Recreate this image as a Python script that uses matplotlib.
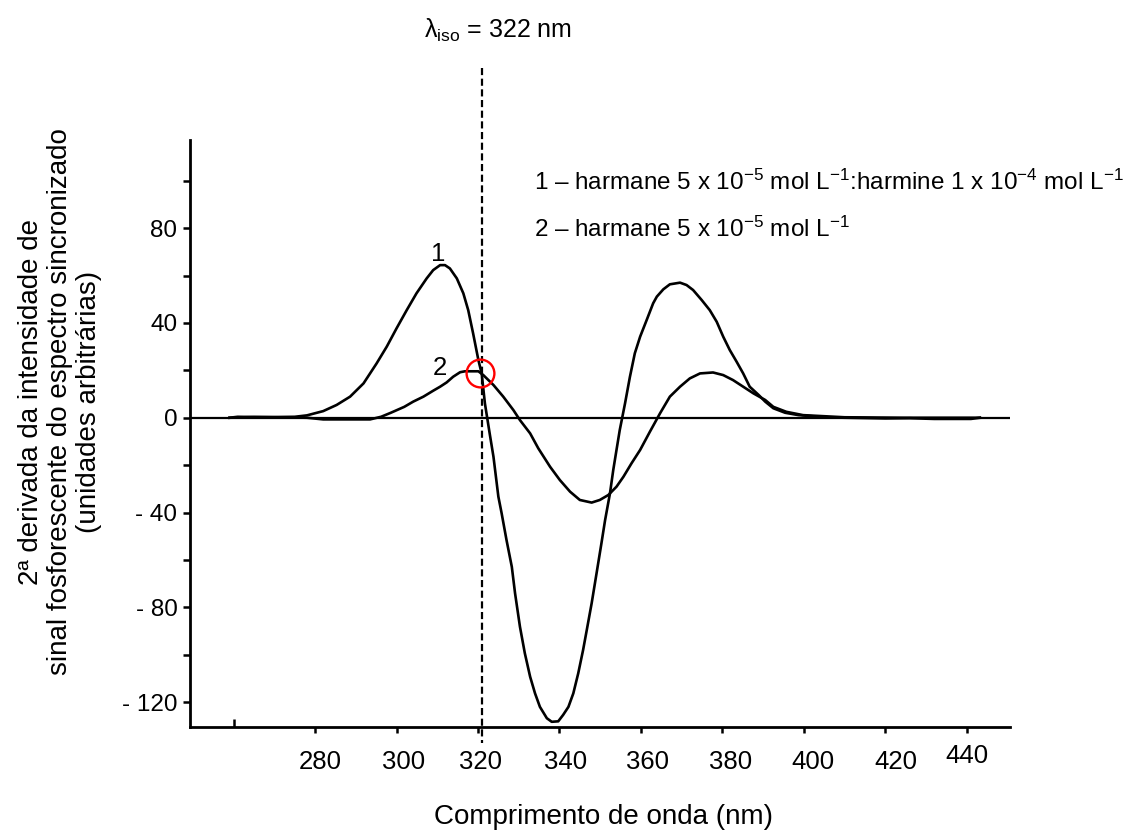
import numpy as np
import matplotlib
matplotlib.use("Agg")
import matplotlib.pyplot as plt
from matplotlib.transforms import ScaledTranslation

plt.rcParams["font.family"] = ["Liberation Sans", "DejaVu Sans"]
plt.rcParams["mathtext.fontset"] = "custom"
plt.rcParams["mathtext.rm"] = "Liberation Sans"
plt.rcParams["mathtext.it"] = "Liberation Sans:italic"
plt.rcParams["mathtext.default"] = "regular"

# curve 1: harmane 5e-5 + harmine 1e-4
wl_1 = [259, 261, 265, 270, 275, 278, 282, 285.3, 288.6, 291.9, 295.1, 297.6, 300.0,
        302.5, 304.9, 307.4, 309.0, 310.7, 311.9, 313.1, 314.8, 316.4, 317.6, 318.8,
        320.1, 320.9, 321.7, 322.9, 323.8, 325.0, 325.8, 327.0, 328.3, 329.1, 330.3,
        331.5, 332.8, 334.0, 335.2, 336.9, 338.1, 339.7, 340.9, 342.2, 343.4, 344.6,
        345.8, 346.7, 347.9, 349.1, 350.3, 351.2, 352.4, 353.2, 354.0, 354.8, 356.1,
        357.3, 358.5, 359.8, 361.4, 363.0, 363.9, 365.5, 367.1, 369.6, 371.2, 372.8,
        374.9, 376.9, 378.6, 380.2, 381.8, 383.5, 385.1, 386.7, 388.9, 390.5, 392.5,
        395.4, 398.7, 405.2, 410, 420, 426, 432, 441, 443.2]
d2_1 = [0, 0.4, 0.3, 0.3, 0.4, 1.0, 2.8, 5.4, 8.9, 14.5, 22.9, 30.0, 37.7,
        45.4, 52.5, 58.8, 62.3, 64.4, 64.4, 63.0, 58.8, 52.5, 45.4, 35.6,
        24.3, 18.7, 6.0, -7.0, -16.5, -33.3, -40.3, -51.6, -62.9, -74.1, -88.2,
        -99.4, -109.3, -116.3, -122.0, -126.8, -128.3, -128.1, -125.4, -122.0, -116.3, -107.9,
        -98.0, -89.6, -78.3, -65.7, -53.0, -43.2, -31.9, -22.1, -13.6, -5.2, 6.1,
        17.3, 27.2, 34.2, 41.2, 48.3, 51.1, 54.2, 56.3, 57.0, 56.0, 53.9,
        49.7, 45.4, 40.5, 34.2, 28.6, 23.6, 18.7, 13.1, 9.6, 6.8, 4.0,
        2.1, 1.1, 0.2, 0, -0.3, -0.2, -0.5, -0.5, 0]

# curve 2: harmane 5e-5
wl_2 = [259, 265, 270, 278, 282, 288.6, 293.5, 296.2, 298.6, 301.9, 304.1, 306.6, 309.0,
        310.7, 312.3, 313.9, 315.6, 316.8, 320.1, 321.3, 323.8, 326.2, 328.7, 330.3,
        332.8, 334.8, 337.7, 340.1, 342.6, 345.0, 347.9, 349.9, 352.0, 354.0, 355.7,
        357.7, 359.8, 362.2, 364.7, 367.1, 369.6, 372.0, 374.5, 377.7, 380.2, 382.6,
        385.1, 387.6, 390.5, 392.5, 395.7, 399.8, 410, 425, 443.2]
d2_2 = [0, 0.3, 0.2, 0, -0.7, -0.7, -0.7, 0.4, 2.1, 4.6, 6.8, 8.9, 11.4,
        13.1, 14.9, 17.3, 19.2, 19.6, 19.6, 18.0, 13.8, 8.9, 3.2, -1.0,
        -6.6, -12.9, -20.7, -26.3, -31.2, -34.7, -35.8, -34.7, -32.6, -29.1, -24.9,
        -19.2, -13.6, -5.9, 1.9, 8.9, 13.1, 16.6, 18.7, 19.1, 18.0, 15.9,
        13.1, 10.3, 7.5, 4.6, 2.5, 1.1, 0.2, 0, 0]

lambda_iso = 321
iso_point = (320.6, 19)
x_ticks = [280, 300, 320, 340, 360, 380, 400, 420, 440]
y_ticks = [-120, -80, -40, 0, 40, 80]
y_tick_labels = ["- 120", "- 80", "- 40", "0", "40", "80"]
# small offsets of the x tick labels, in pixels (as in the original figure)
x_label_dx = [5, 7, 3, 6, 7, 8, 9, 11, 0]
x_label_dy = [0, 0, 0, 0, 0, 0, 0, 0, 6]

fig = plt.figure(figsize=(11.31, 8.34), dpi=100)
ax = fig.add_axes([190 / 1131, 1 - 727 / 834, 820 / 1131, 587 / 834])

ax.axhline(0, color="black", lw=1.6, zorder=1)
ax.plot(wl_1, d2_1, color="black", lw=1.9)
ax.plot(wl_2, d2_2, color="black", lw=1.9)
ax.plot([lambda_iso, lambda_iso], [147.5, -137.3], color="black", lw=1.6,
        ls=(0, (3.2, 1.6)), clip_on=False)
ax.plot(*iso_point, "o", ms=20, mfc="none", mec="red", mew=1.7)

ax.set_xlim(249.3, 450.6)
ax.set_ylim(-130.5, 117.2)

for s in ["top", "right"]:
    ax.spines[s].set_visible(False)
ax.spines["left"].set_linewidth(2)
ax.spines["bottom"].set_linewidth(2)

ax.set_xticks(x_ticks)
ax.set_xticks([260], minor=True)
ax.tick_params(axis="x", which="major", direction="out", length=4.5, width=1.8,
               labelsize=18.5, pad=12)
ax.tick_params(axis="x", which="minor", direction="in", length=6, width=1.8)
ax.set_yticks(y_ticks)
ax.set_yticklabels(y_tick_labels)
ax.set_yticks([-100, -60, -20, 20, 60, 100], minor=True)
ax.tick_params(axis="y", which="both", direction="out", length=5, width=1.8,
               labelsize=17.5, pad=4)
for lab, dx, dy in zip(ax.get_xticklabels(), x_label_dx, x_label_dy):
    lab.set_transform(lab.get_transform()
                      + ScaledTranslation(dx / 100, dy / 100, fig.dpi_scale_trans))

ax.text(310.2, 69, "1", fontsize=18.5, ha="center", va="center")
ax.text(310.7, 21, "2", fontsize=18.5, ha="center", va="center")

fig.text(534 / 1131, 1 - 182 / 834,
         "1 – harmane 5 x 10$^{-5}$ mol L$^{-1}$:harmine 1 x 10$^{-4}$ mol L$^{-1}$",
         fontsize=17.5, va="center", ha="left")
fig.text(534 / 1131, 1 - 229 / 834, "2 – harmane 5 x 10$^{-5}$ mol L$^{-1}$",
         fontsize=17.5, va="center", ha="left")

fig.text(498 / 1131, 1 - 38 / 834, r"$\lambda_{iso}$ = 322 nm", fontsize=18,
         ha="center", va="baseline")
fig.text(604 / 1131, 1 - 824 / 834, "Comprimento de onda (nm)", fontsize=20,
         ha="center", va="baseline")
fig.text(60 / 1131, 1 - 402 / 834,
         "2ª derivada da intensidade de\nsinal fosforescente do espectro sincronizado\n(unidades arbitrárias)",
         fontsize=20, rotation=90, ha="center", va="center", multialignment="center",
         linespacing=1.15)

fig.savefig("out.png", dpi=100)
